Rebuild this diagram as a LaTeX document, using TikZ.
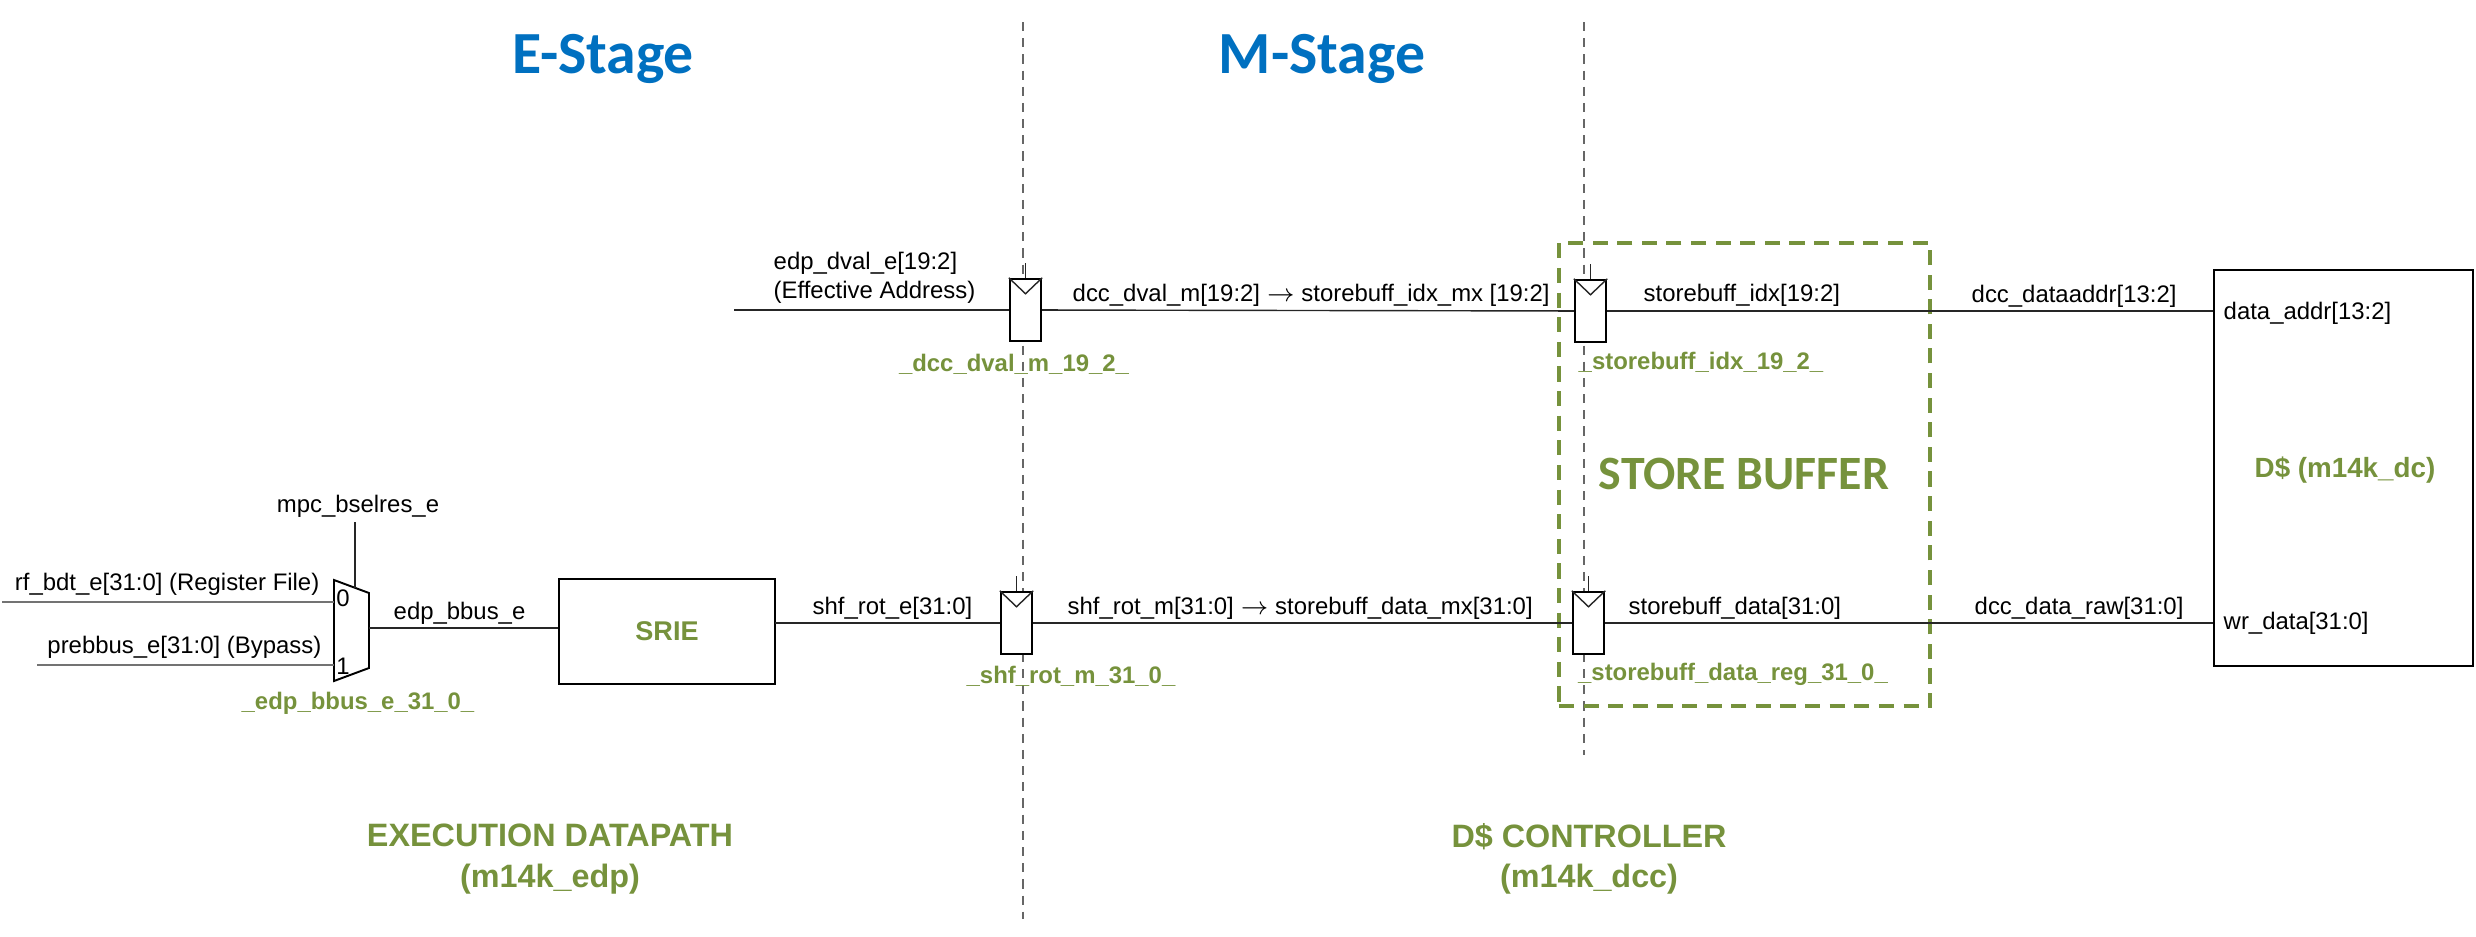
\documentclass[tikz,border=0pt]{standalone}
\usepackage{fontspec}
\usetikzlibrary{calc}
\setmainfont{Liberation Sans}
\newfontfamily\calibfont{Carlito}
\definecolor{stagegreen}{HTML}{76923C}
\definecolor{stageblue}{HTML}{0070C0}
\tikzset{
  sig/.style={font=\fontsize{6.8}{8.2}\selectfont, inner sep=0pt, align=left},
  instname/.style={font=\fontsize{6.8}{8.4}\selectfont\bfseries, text=stagegreen, inner sep=0pt},
  unitname/.style={font=\fontsize{9.2}{11.4}\selectfont\bfseries, text=stagegreen, inner sep=0pt, align=center},
  stagename/.style={font=\fontsize{17}{20}\selectfont\calibfont\bfseries, text=stageblue, inner sep=0pt},
  wire/.style={draw=black!85, line width=0.4pt},
  buswire/.style={draw=black!55, line width=0.7pt},
  pinstub/.style={draw=black!85, line width=0.8pt},
  cutline/.style={draw=black!60, line width=0.35pt, dash pattern=on 2.6pt off 2pt},
  block/.style={draw, line width=0.7pt, fill=white, inner sep=0pt},
  flop/.style={block, minimum width=0.31cm, minimum height=0.62cm},
}
\begin{document}
\begin{tikzpicture}[x=0.01cm, y=-0.01cm]
    \useasboundingbox (0,0) rectangle (2476,936);
    % stage boundaries
    \coordinate (cut1top) at (1023,22);
    \coordinate (cut1bot) at (1023,919);
    \coordinate (cut2top) at (1584,22);
    \coordinate (cut2bot) at (1584,755);
    \draw[cutline] (cut1top) -- (cut1bot);
    \draw[cutline] (cut2top) -- (cut2bot);
    \node[stagename] (estage) at (603,59) {E-Stage};
    \node[stagename] (mstage) at (1322,59) {M-Stage};
    % store buffer frame
    \node[draw=stagegreen, line width=1.15pt, dash pattern=on 4.3pt off 2.7pt, minimum width=3.71cm, minimum height=4.63cm, inner sep=0pt] (sbframe) at (1744.5,474.5) {};
    \node[font=\fontsize{13.6}{16}\selectfont\calibfont\bfseries, text=stagegreen, inner sep=0pt] (sbname) at (1744,474) {STORE BUFFER};
    % blocks
    \node[block, minimum width=2.16cm, minimum height=1.05cm] (srie) at (667,631.5) {};
    \node[font=\fontsize{7.7}{9}\selectfont\bfseries, text=stagegreen, inner sep=0pt] (srielab) at (667,631) {SRIE};
    \node[block, minimum width=2.59cm, minimum height=3.96cm] (dc) at (2343.5,468) {};
    \node[font=\fontsize{7.9}{9}\selectfont\bfseries, text=stagegreen, inner sep=0pt] (dclab) at (2345,470) {D\$ (m14k\_dc)};
    \node[flop] (dvalm) at (1025.5,310) {};
    \node[flop] (idxreg) at (1590.5,311) {};
    \node[flop] (rotm) at (1016.5,623) {};
    \node[flop] (datareg) at (1588.5,623) {};
    % mux
    \coordinate (muxnw) at (334,580);
    \coordinate (muxne) at (369,593);
    \coordinate (muxse) at (369,668);
    \coordinate (muxsw) at (334,681);
    \draw[line width=0.55pt] (muxnw) -- (muxne) -- (muxse) -- (muxsw) -- cycle;
    \node[sig] (mux0) at (343,598) {0};
    \node[sig] (mux1) at (343,666) {1};
    \coordinate (rfin) at (2,602);
    \coordinate (rfmux) at (334,602);
    \coordinate (bypin) at (37,665);
    \coordinate (bypmux) at (334,665);
    \coordinate (selin) at (355,522);
    \coordinate (selmux) at (355,588);
    \coordinate (muxout) at (369,628);
    \coordinate (srieout) at (775,623);
    \coordinate (dvalin) at (734,310);
    \draw[buswire] (rfin) -- (rfmux);
    \draw[buswire] (bypin) -- (bypmux);
    \draw[wire] (selin) -- (selmux);
    \draw[wire] (muxout) -- (muxout -| srie.west);
    % datapath wires
    \draw[wire] (srieout) -- (rotm);
    \draw[wire] (rotm) -- (datareg);
    \draw[wire] (datareg) -- (datareg -| dc.west);
    \draw[wire] (dvalin) -- (dvalm);
    \draw[wire] (dvalm) -- (idxreg);
    \draw[wire] (idxreg) -- (idxreg -| dc.west);
    % flop pins and clocks
    \foreach \f in {dvalm,idxreg,rotm,datareg} {
      \draw[pinstub] (\f.west) -- ++(-16,0);
      \draw[pinstub] (\f.east) -- ++(16,0);
      \draw[wire] (\f.north) -- ++(0,-15);
      \draw[wire] (\f.north west) -- ($(\f.north)+(0,16)$) -- (\f.north east);
    }
    % signal labels
    \node[sig, anchor=center] (sellab) at (358,506) {mpc\_bselres\_e};
    \node[sig, anchor=east] (rflab) at (320,584) {rf\_bdt\_e[31:0] (Register File)};
    \node[sig, anchor=east] (byplab) at (322,647) {prebbus\_e[31:0] (Bypass)};
    \node[sig, anchor=west] (bbuslab) at (393,613) {edp\_bbus\_e};
    \node[sig, anchor=west] (rotelab) at (812,608) {shf\_rot\_e[31:0]};
    \node[sig, anchor=west] (rotmlab) at (1067,608) {shf\_rot\_m[31:0] $\rightarrow$ storebuff\_data\_mx[31:0]};
    \node[sig, anchor=west] (datalab) at (1628,608) {storebuff\_data[31:0]};
    \node[sig, anchor=west] (rawlab) at (1974,608) {dcc\_data\_raw[31:0]};
    \node[sig, anchor=west] (wrlab) at (2223,623) {wr\_data[31:0]};
    \node[sig, anchor=west] (dvallab) at (773,278) {edp\_dval\_e[19:2]\\(Effective Address)};
    \node[sig, anchor=west] (dvalmlab) at (1072,295) {dcc\_dval\_m[19:2] $\rightarrow$ storebuff\_idx\_mx [19:2]};
    \node[sig, anchor=west] (idxlab) at (1643,295) {storebuff\_idx[19:2]};
    \node[sig, anchor=west] (addrlab) at (1971,296) {dcc\_dataaddr[13:2]};
    \node[sig, anchor=west] (daddrlab) at (2223,313) {data\_addr[13:2]};
    % instance names
    \node[instname] (muxname) at (358,703) {\_edp\_bbus\_e\_31\_0\_};
    \node[instname] (dvalname) at (1014,364) {\_dcc\_dval\_m\_19\_2\_};
    \node[instname] (idxname) at (1701,362) {\_storebuff\_idx\_19\_2\_};
    \node[instname] (rotname) at (1071,676) {\_shf\_rot\_m\_31\_0\_};
    \node[instname] (dataname) at (1733,674) {\_storebuff\_data\_reg\_31\_0\_};
    % units
    \node[unitname] (edpname) at (550,859) {EXECUTION DATAPATH\\(m14k\_edp)};
    \node[unitname] (dccname) at (1589,859) {D\$ CONTROLLER\\(m14k\_dcc)};
\end{tikzpicture}
\end{document}
